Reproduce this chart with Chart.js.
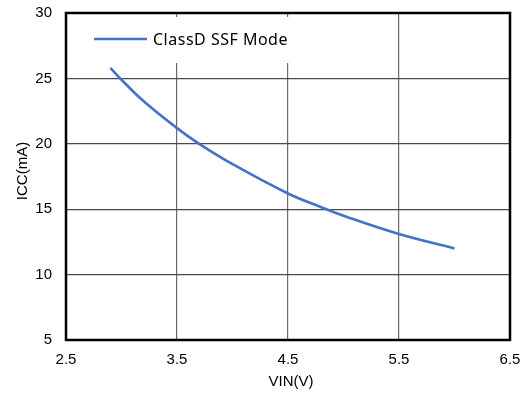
<!DOCTYPE html>
<html>
<head>
<meta charset="utf-8">
<script src="https://cdn.jsdelivr.net/npm/chart.js@4/dist/chart.umd.min.js"></script>
<style>
  html, body { margin: 0; padding: 0; background: #fff; }
  #wrap { width: 529px; height: 394px; }
</style>
</head>
<body>
<div id="wrap"><canvas id="c" width="529" height="394"></canvas></div>
<script>
// Supply current vs. input voltage
const vin = [2.9, 3.0, 3.2, 3.5, 3.7, 4.0, 4.5, 4.8, 5.0, 5.5, 6.0];
const icc = [25.8, 24.9, 23.25, 21.2, 20.0, 18.45, 16.2, 15.15, 14.5, 13.1, 12.0];
const seriesName = 'ClassD SSF Mode';
const xTitle = 'VIN(V)';
const yTitle = 'ICC(mA)';
const xRange = [2.5, 6.5];
const yRange = [5, 30];

const lineColor = '#4472C4';
const tickFont = { family: 'Liberation Sans, Arial, sans-serif', size: 15 };

// Legend box in the upper-left corner of the plot, axis titles and the frame
const decorations = {
  id: 'decorations',
  beforeDatasetsDraw(chart) {
    const { ctx, chartArea: a } = chart;
    ctx.save();
    ctx.fillStyle = '#fff';
    ctx.fillRect(a.left + 3, a.top + 4, 250, 46);
    ctx.strokeStyle = lineColor;
    ctx.lineWidth = 2.5;
    ctx.beginPath();
    ctx.moveTo(94, 39);
    ctx.lineTo(147, 39);
    ctx.stroke();
    ctx.fillStyle = '#000';
    ctx.font = '16px "Noto Sans", sans-serif';
    ctx.letterSpacing = '0.5px';
    ctx.textBaseline = 'middle';
    ctx.textAlign = 'left';
    ctx.fillText(seriesName, 153, 40);
    ctx.restore();
  },
  afterDraw(chart) {
    const { ctx, chartArea: a } = chart;
    ctx.save();
    ctx.strokeStyle = '#000';
    ctx.lineWidth = 2.5;
    ctx.strokeRect(a.left, a.top, a.right - a.left, a.bottom - a.top);
    ctx.fillStyle = '#000';
    ctx.font = '15px "Liberation Sans", Arial, sans-serif';
    ctx.textAlign = 'center';
    ctx.textBaseline = 'middle';
    ctx.fillText(xTitle, 291, 382);
    ctx.translate(23, 171);
    ctx.rotate(-Math.PI / 2);
    ctx.fillText(yTitle, 0, 0);
    ctx.restore();
  }
};

new Chart(document.getElementById('c'), {
  type: 'line',
  data: {
    datasets: [{
      label: seriesName,
      data: vin.map((v, i) => ({ x: v, y: icc[i] })),
      borderColor: lineColor,
      borderWidth: 2.6,
      pointRadius: 0,
      fill: false,
      tension: 0.4
    }]
  },
  options: {
    responsive: false,
    animation: false,
    layout: { padding: { top: 13, right: 19, left: 0, bottom: 0 } },
    plugins: { legend: { display: false }, tooltip: { enabled: false } },
    scales: {
      x: {
        type: 'linear',
        min: xRange[0], max: xRange[1],
        afterFit(s) { s.height = 54; s.paddingLeft = 0; s.paddingRight = 0; },
        ticks: { stepSize: 1, color: '#000', font: tickFont, padding: 11, maxRotation: 0,
                 callback: v => v.toFixed(1) },
        grid: { color: '#6a6a6a', lineWidth: 1.2, drawTicks: false },
        border: { display: false }
      },
      y: {
        type: 'linear',
        min: yRange[0], max: yRange[1],
        afterFit(s) { s.width = 66; s.paddingTop = 0; s.paddingBottom = 0; },
        ticks: { stepSize: 5, color: '#000', font: tickFont, padding: 14 },
        grid: { color: '#4a4a4a', lineWidth: 1.2, drawTicks: false },
        border: { display: false }
      }
    }
  },
  plugins: [decorations]
});
</script>
</body>
</html>
